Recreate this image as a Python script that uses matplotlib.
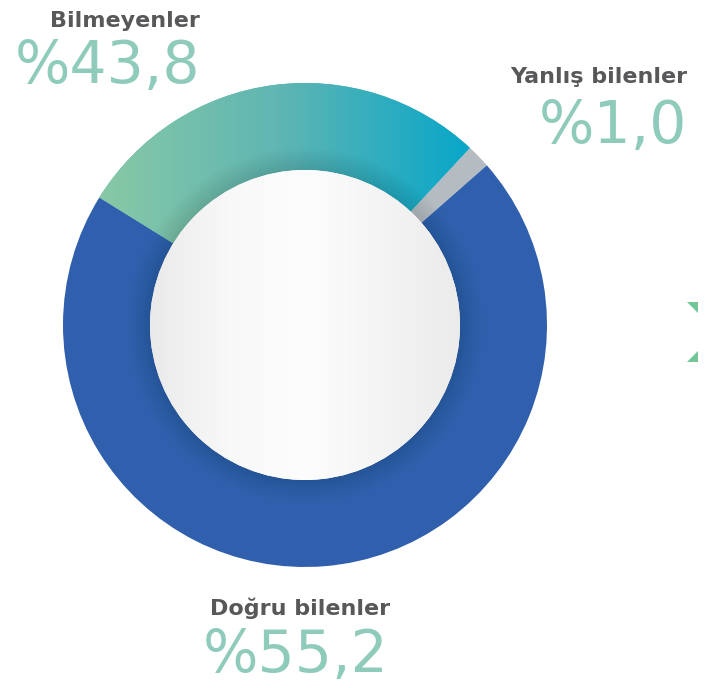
import numpy as np
import matplotlib.pyplot as plt
from matplotlib.patches import Circle, Polygon, Rectangle
from matplotlib.colors import LinearSegmentedColormap

# labels and values as printed on the chart
labels = ['Bilmeyenler', 'Yanlış bilenler', 'Doğru bilenler']
values = ['%43,8', '%1,0', '%55,2']
# arc sizes as they are drawn in the picture (share of the full ring, %)
arc_share = [28.1, 1.6, 70.3]
ring_colors = ['#5fb6b4', '#b5bcc1', '#3060ad']

W, H = 705, 688
cx, cy = 305, H - 325
r_out, r_in = 242, 155

fig = plt.figure(figsize=(W / 100, H / 100), dpi=100)
ax = fig.add_axes([0, 0, 1, 1])

wedges, _ = ax.pie(arc_share, colors=ring_colors, startangle=148.2, counterclock=False,
                   radius=r_out, center=(cx, cy),
                   wedgeprops=dict(width=r_out - r_in + 10, linewidth=0))

# teal gradient on the first arc
teal = LinearSegmentedColormap.from_list('teal', ['#89c9a5', '#5db5b3', '#05a6ca'])
grad = np.linspace(0, 1, 256).reshape(1, -1)
im = ax.imshow(grad, cmap=teal, extent=(95, 475, cy, cy + r_out + 5),
               aspect='auto', zorder=2)
im.set_clip_path(wedges[0])

# soft shadow around the inner disc
for r in np.linspace(r_in, r_in + 22, 12):
    ax.add_patch(Circle((cx, cy), r, color='black', alpha=0.007, lw=0, zorder=3))

# inner disc with light horizontal shading
disc = Circle((cx, cy), r_in, color='#f5f4f4', lw=0, zorder=4)
ax.add_patch(disc)
shade = LinearSegmentedColormap.from_list('shade', ['#ebeaea', '#f8f8f8', '#fdfdfd', '#f5f4f4', '#ecebeb'])
im2 = ax.imshow(grad, cmap=shade, extent=(cx - r_in, cx + r_in, cy - r_in, cy + r_in),
                aspect='auto', zorder=5)
im2.set_clip_path(disc)

label_color = '#58585a'
value_color = '#8fcbbb'
label_pos = [(200, 27), (687, 83), (390, 615)]
value_pos = [(200, 83), (687, 143), (388, 672)]

for lab, (x, y) in zip(labels, label_pos):
    ax.text(x, H - y, lab, ha='right', va='baseline', fontsize=16,
            fontweight='bold', color=label_color, family='DejaVu Sans', zorder=6)
for val, (x, y) in zip(values, value_pos):
    ax.text(x, H - y, val, ha='right', va='baseline', fontsize=42,
            color=value_color, family='DejaVu Sans', zorder=6)

# partial green arrow cut off at the right edge
arrow = Polygon([(687, H - 302), (701, H - 302), (731, H - 332), (701, H - 362),
                 (687, H - 362), (717, H - 332)], closed=True,
                color='#72c596', lw=0, zorder=6)
ax.add_patch(arrow)
arrow.set_clip_path(Rectangle((0, 0), 698, H, transform=ax.transData))

ax.set_xlim(0, W)
ax.set_ylim(0, H)
ax.set_aspect('equal')
ax.axis('off')

fig.savefig('out.png', dpi=100)
